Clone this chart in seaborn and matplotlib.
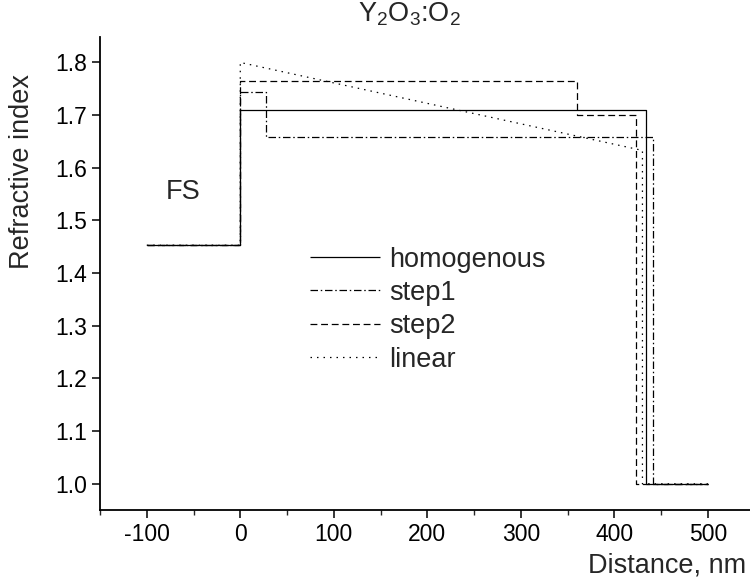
import matplotlib
matplotlib.use("Agg")
import matplotlib.pyplot as plt
from matplotlib.ticker import MultipleLocator, FormatStrFormatter
import numpy as np
import pandas as pd
import seaborn as sns

sns.set_theme(style="ticks")
plt.rcParams["font.family"] = ["Liberation Sans", "DejaVu Sans"]
plt.rcParams["mathtext.fontset"] = "custom"
plt.rcParams["mathtext.rm"] = "Liberation Sans"
plt.rcParams["mathtext.it"] = "Liberation Sans"
plt.rcParams["axes.unicode_minus"] = False

# Refractive index profiles: fused-silica substrate, Y2O3:O2 film, air
hom_x = [-100, 0, 0, 434, 434, 500]
hom_n = [1.453, 1.453, 1.709, 1.709, 1.0, 1.0]

step1_x = [-100, 0, 0, 27.5, 27.5, 441, 441, 500]
step1_n = [1.453, 1.453, 1.743, 1.743, 1.659, 1.659, 1.0, 1.0]

step2_x = [-100, 0, 0, 360, 360, 423, 423, 500]
step2_n = [1.453, 1.453, 1.765, 1.765, 1.701, 1.701, 1.0, 1.0]

lin_x = [-100, 0, 0, 430, 430, 500]
lin_n = [1.453, 1.453, 1.800, 1.633, 1.0, 1.0]

series = ["homogenous", "step1", "step2", "linear"]
styles = {
    "homogenous": (0, ()),
    "step1": (0, (6, 2.2, 1.2, 2.2)),
    "step2": (0, (5.5, 3)),
    "linear": (0, (1.2, 4)),
}

frames = []
for name, xs, ns in zip(series, [hom_x, step1_x, step2_x, lin_x],
                        [hom_n, step1_n, step2_n, lin_n]):
    frames.append(pd.DataFrame({"distance": xs, "n": ns, "profile": name,
                                "order": np.arange(len(xs))}))
df = pd.concat(frames, ignore_index=True)

fig = plt.figure(figsize=(7.5, 5.81), dpi=100)
ax = fig.add_axes([0.1333, 0.122, 0.8667, 0.814])

for name in series:
    sub = df[df["profile"] == name]
    sns.lineplot(data=sub, x="distance", y="n", ax=ax, sort=False,
                 estimator=None, color="black", linewidth=0.9,
                 linestyle=styles[name], label=name)

ax.set_xlim(-150, 545)
ax.set_ylim(0.95, 1.848)
ax.xaxis.set_major_locator(MultipleLocator(100))
ax.xaxis.set_minor_locator(MultipleLocator(50))
ax.yaxis.set_major_locator(MultipleLocator(0.1))
ax.yaxis.set_major_formatter(FormatStrFormatter("%.1f"))

for s in ["top", "right"]:
    ax.spines[s].set_visible(False)
for s in ["left", "bottom"]:
    ax.spines[s].set_linewidth(1.3)
    ax.spines[s].set_color("black")

ax.tick_params(axis="both", which="major", direction="out", length=6,
               width=1.1, labelsize=16.5, colors="black", pad=3)
ax.tick_params(axis="x", which="minor", direction="out", length=3.5, width=1.0)

ax.set_xlabel("")
ax.set_ylabel("")
fig.text(22 / 750, 1 - 172 / 581, "Refractive index", rotation=90,
         ha="center", va="center", fontsize=19.5)
fig.text(746 / 750, 1 - 566 / 581, "Distance, nm", ha="right",
         va="center", fontsize=19.5)

fig.text(409 / 750, 1 - 14 / 581, r"Y$_2$O$_3$:O$_2$", ha="center",
         va="center", fontsize=19.5)
ax.text(-61, 1.554, "FS", fontsize=19.5, ha="center", va="center")

leg = ax.legend(loc="center left", bbox_to_anchor=(0.323, 0.424),
                frameon=False, fontsize=19.5, handlelength=2.6,
                handletextpad=0.33, labelspacing=0.27, borderaxespad=0,
                borderpad=0)

fig.savefig("out.png", dpi=100)
